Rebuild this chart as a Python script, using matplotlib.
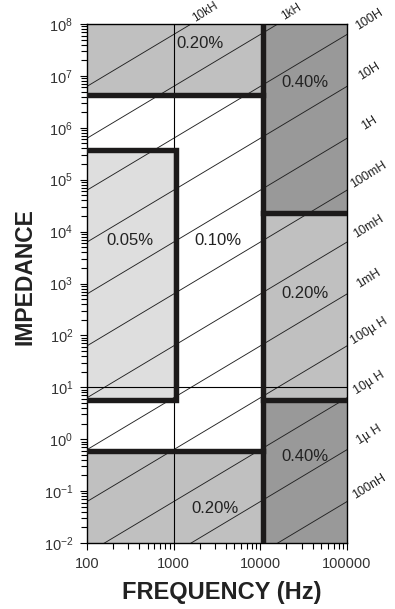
import numpy as np
import matplotlib
matplotlib.use("Agg")
import matplotlib.pyplot as plt

plt.rcParams['font.family'] = ['Liberation Sans', 'DejaVu Sans']
plt.rcParams['mathtext.fontset'] = 'custom'
plt.rcParams['mathtext.rm'] = 'Liberation Sans'
plt.rcParams['mathtext.it'] = 'Liberation Sans:italic'
plt.rcParams['mathtext.bf'] = 'Liberation Sans:bold'
plt.rcParams['axes.unicode_minus'] = False

# ---- data ----
f_min, f_max = 100, 100000
z_min, z_max = 1e-2, 1e8
f_box = 1065          # right edge of 0.05% box
f_split = 10700       # the 10 kHz split
z_top_left = 4.3e6
z_right_upper = 2.3e4
z_box_top = 3.7e5
z_low = 5.6
z_bottom = 0.605

x_ticks = [100, 1000, 10000, 100000]
x_tick_labels = ["100", "1000", "10000", "100000"]
y_exponents = list(range(-2, 9))

acc_text = ["0.20%", "0.40%", "0.05%", "0.10%", "0.20%", "0.40%", "0.20%"]
acc_f = [2010, 32700, 313, 3240, 32700, 32700, 3000]
acc_z = [4.3e7, 7.6e6, 6.6e3, 6.6e3, 630, 0.47, 0.047]

inductances = [1e-7, 1e-6, 1e-5, 1e-4, 1e-3, 1e-2, 1e-1, 1, 10, 100, 1e3, 1e4]
ind_labels = ["100nH", "1µ H", "10µ H", "100µ H", "1mH", "10mH", "100mH",
              "1H", "10H", "100H", "1kH", "10kH"]

c_dark = "#999999"
c_mid = "#c0c0c0"
c_light = "#dedede"
c_thick = "#1c1a1a"

fig = plt.figure(figsize=(3.95, 6.09), dpi=100)
ax = fig.add_axes([87/395, 1-543/609, 260/395, 519/609])
ax.set_xscale('log')
ax.set_yscale('log')
ax.set_xlim(f_min, f_max)
ax.set_ylim(z_min, z_max)

# filled regions
def box(f0, f1, z0, z1, c):
    ax.fill_between([f0, f1], [z0, z0], [z1, z1], color=c, lw=0, zorder=0)

box(f_min, f_split, z_top_left, z_max, c_mid)
box(f_split, f_max, z_right_upper, z_max, c_dark)
box(f_split, f_max, z_low, z_right_upper, c_mid)
box(f_split, f_max, z_min, z_low, c_dark)
box(f_min, f_box, z_low, z_box_top, c_light)
box(f_min, f_split, z_min, z_bottom, c_mid)

# inductance lines
fr = np.logspace(2, 5, 200)
for L in inductances:
    ax.plot(fr, 2*np.pi*fr*L, color='#222222', lw=0.65, zorder=1)

# thin grid lines
ax.axvline(1000, color='black', lw=0.8, zorder=1)
ax.axhline(10, color='black', lw=0.8, zorder=1)

# thick boundaries
lw = 3.9
kw = dict(color=c_thick, lw=lw, zorder=3, solid_capstyle='projecting', solid_joinstyle='miter')
ax.plot([f_min, f_split], [z_top_left, z_top_left], **kw)
ax.plot([f_split, f_split], [z_min, z_max], color=c_thick, lw=lw, zorder=3, solid_capstyle='butt')
ax.plot([f_split, f_max], [z_right_upper, z_right_upper], **kw)
ax.plot([f_split, f_max], [z_low, z_low], **kw)
ax.plot([f_min, f_box, f_box, f_min], [z_box_top, z_box_top, z_low, z_low], **kw)
ax.plot([f_min, f_split], [z_bottom, z_bottom], **kw)

# accuracy labels
for t, f, z in zip(acc_text, acc_f, acc_z):
    ax.text(f, z, t, ha='center', va='center', fontsize=12, color='#222222', zorder=4)

# inductance labels
for L, lab in zip(inductances, ind_labels):
    z_exit = 2*np.pi*f_max*L
    if z_exit <= z_max:
        ax.annotate(lab, xy=(f_max, z_exit), xytext=(22, 15), textcoords='offset pixels',
                    ha='center', va='center', rotation=32, fontsize=9, color='#222222',
                    annotation_clip=False)
    else:
        f_exit = z_max/(2*np.pi*L)
        ax.annotate(lab, xy=(f_exit, z_max), xytext=(14, 12), textcoords='offset pixels',
                    ha='center', va='center', rotation=32, fontsize=8.5, color='#222222',
                    annotation_clip=False)

# ticks
ax.set_xticks(x_ticks)
ax.set_xticklabels(x_tick_labels)
ax.set_yticks([10.0**e for e in y_exponents])
ax.set_yticklabels([r'$10^{%d}$' % e for e in y_exponents])
ax.tick_params(which='major', direction='out', length=5, width=0.8, labelsize=10.5,
               colors='black', labelcolor='#333333', pad=5)
ax.tick_params(which='minor', direction='out', length=4, width=0.8)
ax.yaxis.set_minor_locator(matplotlib.ticker.LogLocator(base=10, subs=np.arange(2, 10), numticks=20))
ax.yaxis.set_minor_formatter(matplotlib.ticker.NullFormatter())
ax.xaxis.set_minor_formatter(matplotlib.ticker.NullFormatter())
for s in ax.spines.values():
    s.set_linewidth(1.0)

fig.text(25/395, 1-277/609, "IMPEDANCE", rotation=90, ha='center', va='center',
         fontsize=16.5, fontweight='bold', color='#222222')
fig.text(222/395, 1-593/609, "FREQUENCY (Hz)", ha='center', va='center',
         fontsize=17, fontweight='bold', color='#222222')

fig.savefig("out.png", dpi=100)
